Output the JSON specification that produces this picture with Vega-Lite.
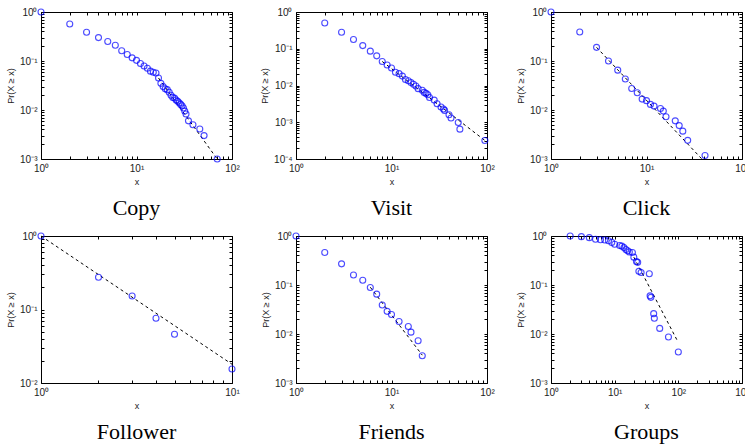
{
  "$schema": "https://vega.github.io/schema/vega-lite/v6.json",
  "padding": {"left": 6, "top": 6, "right": 0, "bottom": 0},
  "background": "white",
  "bounds": "flush",
  "columns": 3,
  "spacing": {"row": 77, "column": 64},
  "datasets": {
    "pts": [
      {"p":"Copy","x":1,"y":1},{"p":"Copy","x":2,"y":0.57},{"p":"Copy","x":3,"y":0.385},{"p":"Copy","x":4,"y":0.3},{"p":"Copy","x":5,"y":0.25},{"p":"Copy","x":6,"y":0.21},{"p":"Copy","x":7,"y":0.162},{"p":"Copy","x":8,"y":0.136},{"p":"Copy","x":9,"y":0.116},{"p":"Copy","x":10,"y":0.103},{"p":"Copy","x":11,"y":0.089},{"p":"Copy","x":12,"y":0.079},{"p":"Copy","x":13,"y":0.071},{"p":"Copy","x":14,"y":0.062},{"p":"Copy","x":15,"y":0.059},{"p":"Copy","x":16,"y":0.057},{"p":"Copy","x":17,"y":0.045},{"p":"Copy","x":18,"y":0.035},{"p":"Copy","x":19,"y":0.03},{"p":"Copy","x":20,"y":0.027},{"p":"Copy","x":21,"y":0.026},{"p":"Copy","x":22,"y":0.023},{"p":"Copy","x":23,"y":0.02},{"p":"Copy","x":24,"y":0.018},{"p":"Copy","x":25,"y":0.0175},{"p":"Copy","x":26,"y":0.016},{"p":"Copy","x":27,"y":0.015},{"p":"Copy","x":28,"y":0.014},{"p":"Copy","x":29,"y":0.013},{"p":"Copy","x":30,"y":0.0122},{"p":"Copy","x":31,"y":0.011},{"p":"Copy","x":32,"y":0.0095},{"p":"Copy","x":33,"y":0.0083},{"p":"Copy","x":35,"y":0.006},{"p":"Copy","x":39,"y":0.005},{"p":"Copy","x":46,"y":0.0041},{"p":"Copy","x":51,"y":0.003},{"p":"Copy","x":70,"y":0.001},
      {"p":"Visit","x":2,"y":0.5},{"p":"Visit","x":3,"y":0.28},{"p":"Visit","x":4,"y":0.178},{"p":"Visit","x":5,"y":0.122},{"p":"Visit","x":6,"y":0.086},{"p":"Visit","x":7,"y":0.064},{"p":"Visit","x":8,"y":0.045},{"p":"Visit","x":9,"y":0.036},{"p":"Visit","x":10,"y":0.03},{"p":"Visit","x":11,"y":0.023},{"p":"Visit","x":12,"y":0.021},{"p":"Visit","x":13,"y":0.018},{"p":"Visit","x":14,"y":0.0145},{"p":"Visit","x":15,"y":0.0135},{"p":"Visit","x":16,"y":0.012},{"p":"Visit","x":17,"y":0.0108},{"p":"Visit","x":18,"y":0.0097},{"p":"Visit","x":19,"y":0.0082},{"p":"Visit","x":21,"y":0.0074},{"p":"Visit","x":22,"y":0.0065},{"p":"Visit","x":23,"y":0.0061},{"p":"Visit","x":24,"y":0.0056},{"p":"Visit","x":25,"y":0.0047},{"p":"Visit","x":28,"y":0.004},{"p":"Visit","x":30,"y":0.0032},{"p":"Visit","x":33,"y":0.0026},{"p":"Visit","x":35,"y":0.0023},{"p":"Visit","x":36,"y":0.0021},{"p":"Visit","x":40,"y":0.0016},{"p":"Visit","x":42,"y":0.0013},{"p":"Visit","x":50,"y":0.00098},{"p":"Visit","x":52,"y":0.00065},{"p":"Visit","x":95,"y":0.00032},
      {"p":"Click","x":1,"y":1},{"p":"Click","x":2,"y":0.39},{"p":"Click","x":3,"y":0.19},{"p":"Click","x":4,"y":0.1},{"p":"Click","x":5,"y":0.065},{"p":"Click","x":6,"y":0.043},{"p":"Click","x":7,"y":0.0275},{"p":"Click","x":8,"y":0.0225},{"p":"Click","x":9,"y":0.0167},{"p":"Click","x":10,"y":0.0155},{"p":"Click","x":11,"y":0.013},{"p":"Click","x":12,"y":0.012},{"p":"Click","x":14,"y":0.0107},{"p":"Click","x":15,"y":0.0095},{"p":"Click","x":16,"y":0.0073},{"p":"Click","x":20,"y":0.006},{"p":"Click","x":22,"y":0.0048},{"p":"Click","x":24,"y":0.0037},{"p":"Click","x":27,"y":0.0024},{"p":"Click","x":41,"y":0.00118},
      {"p":"Follower","x":1,"y":1},{"p":"Follower","x":2,"y":0.275},{"p":"Follower","x":3,"y":0.153},{"p":"Follower","x":4,"y":0.076},{"p":"Follower","x":5,"y":0.046},{"p":"Follower","x":10,"y":0.0155},
      {"p":"Friends","x":1,"y":1},{"p":"Friends","x":2,"y":0.46},{"p":"Friends","x":3,"y":0.27},{"p":"Friends","x":4,"y":0.16},{"p":"Friends","x":5,"y":0.125},{"p":"Friends","x":6,"y":0.089},{"p":"Friends","x":7,"y":0.065},{"p":"Friends","x":8,"y":0.039},{"p":"Friends","x":9,"y":0.029},{"p":"Friends","x":10,"y":0.025},{"p":"Friends","x":12,"y":0.018},{"p":"Friends","x":15,"y":0.0142},{"p":"Friends","x":16,"y":0.0109},{"p":"Friends","x":19,"y":0.0073},{"p":"Friends","x":21,"y":0.0036},
      {"p":"Groups","x":2,"y":1},{"p":"Groups","x":3,"y":0.97},{"p":"Groups","x":4,"y":0.925},{"p":"Groups","x":5,"y":0.86},{"p":"Groups","x":6,"y":0.84},{"p":"Groups","x":7,"y":0.83},{"p":"Groups","x":8,"y":0.8},{"p":"Groups","x":9,"y":0.74},{"p":"Groups","x":10,"y":0.68},{"p":"Groups","x":12,"y":0.64},{"p":"Groups","x":13,"y":0.62},{"p":"Groups","x":14,"y":0.58},{"p":"Groups","x":15,"y":0.53},{"p":"Groups","x":16,"y":0.5},{"p":"Groups","x":17,"y":0.47},{"p":"Groups","x":19,"y":0.46},{"p":"Groups","x":20,"y":0.37},{"p":"Groups","x":22,"y":0.3},{"p":"Groups","x":23,"y":0.29},{"p":"Groups","x":24,"y":0.19},{"p":"Groups","x":26,"y":0.18},{"p":"Groups","x":35,"y":0.17},{"p":"Groups","x":36,"y":0.06},{"p":"Groups","x":37,"y":0.056},{"p":"Groups","x":41,"y":0.026},{"p":"Groups","x":42,"y":0.021},{"p":"Groups","x":51,"y":0.013},{"p":"Groups","x":70,"y":0.0087},{"p":"Groups","x":100,"y":0.0043}
    ],
    "fit": [
      {"p":"Copy","x":17,"y":0.045},{"p":"Copy","x":70,"y":0.001},
      {"p":"Visit","x":8,"y":0.045},{"p":"Visit","x":95,"y":0.00032},
      {"p":"Click","x":3,"y":0.19},{"p":"Click","x":38,"y":0.001},
      {"p":"Follower","x":1,"y":1},{"p":"Follower","x":10,"y":0.018},
      {"p":"Friends","x":6,"y":0.09},{"p":"Friends","x":21,"y":0.0037},
      {"p":"Groups","x":20,"y":0.37},{"p":"Groups","x":96,"y":0.0074}
    ]
  },
  "config": {
    "font": "Liberation Sans",
    "view": {"stroke": "black", "strokeWidth": 1},
    "axis": {"domain": false, "grid": false, "tickColor": "black", "tickSize": -3, "tickWidth": 1, "labelFontSize": 10, "labelColor": "#222222", "titleFontSize": 9, "titleFontWeight": "normal", "titleColor": "#222222", "labelPadding": 7, "titlePadding": 4, "labelFlush": false, "labelOverlap": false, "labelBound": false},
    "title": {"orient": "bottom", "font": "Liberation Serif", "fontSize": 22, "fontWeight": "normal", "color": "black", "offset": 12, "frame": "group", "anchor": "middle"},
    "point": {"shape": "circle", "filled": false, "color": "#0000ff", "size": 36, "strokeWidth": 1.1},
    "line": {"color": "black", "strokeDash": [3, 3], "strokeWidth": 1}
  },
  "concat": [
    {
      "width": 191, "height": 147, "title": {"text": "Copy"},
      "layer": [
        {"data": {"name": "fit"}, "transform": [{"filter": "datum.p == 'Copy'"}], "mark": "line",
         "encoding": {
           "x": {"field": "x", "type": "quantitative", "scale": {"type": "log", "domain": [1, 100], "nice": false}, "axis": {"title": "x", "values": [1,2,3,4,5,6,7,8,9,10,20,30,40,50,60,70,80,90,100], "labelExpr": "abs(log(datum.value)/LN10 - round(log(datum.value)/LN10)) < 0.000001 ? '10' + replace(replace(replace(replace(replace(replace('' + round(log(datum.value)/LN10), '-', '⁻'), '0', '⁰'), '1', '¹'), '2', '²'), '3', '³'), '4', '⁴') : ''"}},
           "y": {"field": "y", "type": "quantitative", "scale": {"type": "log", "domain": [0.001, 1], "nice": false}, "axis": {"title": "Pr(X ≥ x)", "values": [0.001,0.002,0.003,0.004,0.005,0.006,0.007,0.008,0.009,0.01,0.02,0.03,0.04,0.05,0.06,0.07,0.08,0.09,0.1,0.2,0.3,0.4,0.5,0.6,0.7,0.8,0.9,1], "labelExpr": "abs(log(datum.value)/LN10 - round(log(datum.value)/LN10)) < 0.000001 ? '10' + replace(replace(replace(replace(replace(replace('' + round(log(datum.value)/LN10), '-', '⁻'), '0', '⁰'), '1', '¹'), '2', '²'), '3', '³'), '4', '⁴') : ''"}}
         }},
        {"data": {"name": "pts"}, "transform": [{"filter": "datum.p == 'Copy'"}], "mark": "point",
         "encoding": {
           "x": {"field": "x", "type": "quantitative", "axis": {"orient": "top", "labels": false, "title": null, "values": [1,2,3,4,5,6,7,8,9,10,20,30,40,50,60,70,80,90,100]}},
           "y": {"field": "y", "type": "quantitative", "axis": {"orient": "right", "labels": false, "title": null, "values": [0.001,0.002,0.003,0.004,0.005,0.006,0.007,0.008,0.009,0.01,0.02,0.03,0.04,0.05,0.06,0.07,0.08,0.09,0.1,0.2,0.3,0.4,0.5,0.6,0.7,0.8,0.9,1]}}
         }}
      ],
      "resolve": {"axis": {"x": "independent", "y": "independent"}}
    },
    {
      "width": 191, "height": 147, "title": {"text": "Visit"},
      "layer": [
        {"data": {"name": "fit"}, "transform": [{"filter": "datum.p == 'Visit'"}], "mark": "line",
         "encoding": {
           "x": {"field": "x", "type": "quantitative", "scale": {"type": "log", "domain": [1, 100], "nice": false}, "axis": {"title": "x", "values": [1,2,3,4,5,6,7,8,9,10,20,30,40,50,60,70,80,90,100], "labelExpr": "abs(log(datum.value)/LN10 - round(log(datum.value)/LN10)) < 0.000001 ? '10' + replace(replace(replace(replace(replace(replace('' + round(log(datum.value)/LN10), '-', '⁻'), '0', '⁰'), '1', '¹'), '2', '²'), '3', '³'), '4', '⁴') : ''"}},
           "y": {"field": "y", "type": "quantitative", "scale": {"type": "log", "domain": [0.0001, 1], "nice": false}, "axis": {"title": "Pr(X ≥ x)", "values": [0.0001,0.0002,0.0003,0.0004,0.0005,0.0006,0.0007,0.0008,0.0009,0.001,0.002,0.003,0.004,0.005,0.006,0.007,0.008,0.009,0.01,0.02,0.03,0.04,0.05,0.06,0.07,0.08,0.09,0.1,0.2,0.3,0.4,0.5,0.6,0.7,0.8,0.9,1], "labelExpr": "abs(log(datum.value)/LN10 - round(log(datum.value)/LN10)) < 0.000001 ? '10' + replace(replace(replace(replace(replace(replace('' + round(log(datum.value)/LN10), '-', '⁻'), '0', '⁰'), '1', '¹'), '2', '²'), '3', '³'), '4', '⁴') : ''"}}
         }},
        {"data": {"name": "pts"}, "transform": [{"filter": "datum.p == 'Visit'"}], "mark": "point",
         "encoding": {
           "x": {"field": "x", "type": "quantitative", "axis": {"orient": "top", "labels": false, "title": null, "values": [1,2,3,4,5,6,7,8,9,10,20,30,40,50,60,70,80,90,100]}},
           "y": {"field": "y", "type": "quantitative", "axis": {"orient": "right", "labels": false, "title": null, "values": [0.0001,0.0002,0.0003,0.0004,0.0005,0.0006,0.0007,0.0008,0.0009,0.001,0.002,0.003,0.004,0.005,0.006,0.007,0.008,0.009,0.01,0.02,0.03,0.04,0.05,0.06,0.07,0.08,0.09,0.1,0.2,0.3,0.4,0.5,0.6,0.7,0.8,0.9,1]}}
         }}
      ],
      "resolve": {"axis": {"x": "independent", "y": "independent"}}
    },
    {
      "width": 191, "height": 147, "title": {"text": "Click"},
      "layer": [
        {"data": {"name": "fit"}, "transform": [{"filter": "datum.p == 'Click'"}], "mark": "line",
         "encoding": {
           "x": {"field": "x", "type": "quantitative", "scale": {"type": "log", "domain": [1, 100], "nice": false}, "axis": {"title": "x", "values": [1,2,3,4,5,6,7,8,9,10,20,30,40,50,60,70,80,90,100], "labelExpr": "abs(log(datum.value)/LN10 - round(log(datum.value)/LN10)) < 0.000001 ? '10' + replace(replace(replace(replace(replace(replace('' + round(log(datum.value)/LN10), '-', '⁻'), '0', '⁰'), '1', '¹'), '2', '²'), '3', '³'), '4', '⁴') : ''"}},
           "y": {"field": "y", "type": "quantitative", "scale": {"type": "log", "domain": [0.001, 1], "nice": false}, "axis": {"title": "Pr(X ≥ x)", "values": [0.001,0.002,0.003,0.004,0.005,0.006,0.007,0.008,0.009,0.01,0.02,0.03,0.04,0.05,0.06,0.07,0.08,0.09,0.1,0.2,0.3,0.4,0.5,0.6,0.7,0.8,0.9,1], "labelExpr": "abs(log(datum.value)/LN10 - round(log(datum.value)/LN10)) < 0.000001 ? '10' + replace(replace(replace(replace(replace(replace('' + round(log(datum.value)/LN10), '-', '⁻'), '0', '⁰'), '1', '¹'), '2', '²'), '3', '³'), '4', '⁴') : ''"}}
         }},
        {"data": {"name": "pts"}, "transform": [{"filter": "datum.p == 'Click'"}], "mark": "point",
         "encoding": {
           "x": {"field": "x", "type": "quantitative", "axis": {"orient": "top", "labels": false, "title": null, "values": [1,2,3,4,5,6,7,8,9,10,20,30,40,50,60,70,80,90,100]}},
           "y": {"field": "y", "type": "quantitative", "axis": {"orient": "right", "labels": false, "title": null, "values": [0.001,0.002,0.003,0.004,0.005,0.006,0.007,0.008,0.009,0.01,0.02,0.03,0.04,0.05,0.06,0.07,0.08,0.09,0.1,0.2,0.3,0.4,0.5,0.6,0.7,0.8,0.9,1]}}
         }}
      ],
      "resolve": {"axis": {"x": "independent", "y": "independent"}}
    },
    {
      "width": 191, "height": 147, "title": {"text": "Follower"},
      "layer": [
        {"data": {"name": "fit"}, "transform": [{"filter": "datum.p == 'Follower'"}], "mark": "line",
         "encoding": {
           "x": {"field": "x", "type": "quantitative", "scale": {"type": "log", "domain": [1, 10], "nice": false}, "axis": {"title": "x", "values": [1,2,3,4,5,6,7,8,9,10], "labelExpr": "abs(log(datum.value)/LN10 - round(log(datum.value)/LN10)) < 0.000001 ? '10' + replace(replace(replace(replace(replace(replace('' + round(log(datum.value)/LN10), '-', '⁻'), '0', '⁰'), '1', '¹'), '2', '²'), '3', '³'), '4', '⁴') : ''"}},
           "y": {"field": "y", "type": "quantitative", "scale": {"type": "log", "domain": [0.01, 1], "nice": false}, "axis": {"title": "Pr(X ≥ x)", "values": [0.01,0.02,0.03,0.04,0.05,0.06,0.07,0.08,0.09,0.1,0.2,0.3,0.4,0.5,0.6,0.7,0.8,0.9,1], "labelExpr": "abs(log(datum.value)/LN10 - round(log(datum.value)/LN10)) < 0.000001 ? '10' + replace(replace(replace(replace(replace(replace('' + round(log(datum.value)/LN10), '-', '⁻'), '0', '⁰'), '1', '¹'), '2', '²'), '3', '³'), '4', '⁴') : ''"}}
         }},
        {"data": {"name": "pts"}, "transform": [{"filter": "datum.p == 'Follower'"}], "mark": "point",
         "encoding": {
           "x": {"field": "x", "type": "quantitative", "axis": {"orient": "top", "labels": false, "title": null, "values": [1,2,3,4,5,6,7,8,9,10]}},
           "y": {"field": "y", "type": "quantitative", "axis": {"orient": "right", "labels": false, "title": null, "values": [0.01,0.02,0.03,0.04,0.05,0.06,0.07,0.08,0.09,0.1,0.2,0.3,0.4,0.5,0.6,0.7,0.8,0.9,1]}}
         }}
      ],
      "resolve": {"axis": {"x": "independent", "y": "independent"}}
    },
    {
      "width": 191, "height": 147, "title": {"text": "Friends"},
      "layer": [
        {"data": {"name": "fit"}, "transform": [{"filter": "datum.p == 'Friends'"}], "mark": "line",
         "encoding": {
           "x": {"field": "x", "type": "quantitative", "scale": {"type": "log", "domain": [1, 100], "nice": false}, "axis": {"title": "x", "values": [1,2,3,4,5,6,7,8,9,10,20,30,40,50,60,70,80,90,100], "labelExpr": "abs(log(datum.value)/LN10 - round(log(datum.value)/LN10)) < 0.000001 ? '10' + replace(replace(replace(replace(replace(replace('' + round(log(datum.value)/LN10), '-', '⁻'), '0', '⁰'), '1', '¹'), '2', '²'), '3', '³'), '4', '⁴') : ''"}},
           "y": {"field": "y", "type": "quantitative", "scale": {"type": "log", "domain": [0.001, 1], "nice": false}, "axis": {"title": "Pr(X ≥ x)", "values": [0.001,0.002,0.003,0.004,0.005,0.006,0.007,0.008,0.009,0.01,0.02,0.03,0.04,0.05,0.06,0.07,0.08,0.09,0.1,0.2,0.3,0.4,0.5,0.6,0.7,0.8,0.9,1], "labelExpr": "abs(log(datum.value)/LN10 - round(log(datum.value)/LN10)) < 0.000001 ? '10' + replace(replace(replace(replace(replace(replace('' + round(log(datum.value)/LN10), '-', '⁻'), '0', '⁰'), '1', '¹'), '2', '²'), '3', '³'), '4', '⁴') : ''"}}
         }},
        {"data": {"name": "pts"}, "transform": [{"filter": "datum.p == 'Friends'"}], "mark": "point",
         "encoding": {
           "x": {"field": "x", "type": "quantitative", "axis": {"orient": "top", "labels": false, "title": null, "values": [1,2,3,4,5,6,7,8,9,10,20,30,40,50,60,70,80,90,100]}},
           "y": {"field": "y", "type": "quantitative", "axis": {"orient": "right", "labels": false, "title": null, "values": [0.001,0.002,0.003,0.004,0.005,0.006,0.007,0.008,0.009,0.01,0.02,0.03,0.04,0.05,0.06,0.07,0.08,0.09,0.1,0.2,0.3,0.4,0.5,0.6,0.7,0.8,0.9,1]}}
         }}
      ],
      "resolve": {"axis": {"x": "independent", "y": "independent"}}
    },
    {
      "width": 191, "height": 147, "title": {"text": "Groups"},
      "layer": [
        {"data": {"name": "fit"}, "transform": [{"filter": "datum.p == 'Groups'"}], "mark": "line",
         "encoding": {
           "x": {"field": "x", "type": "quantitative", "scale": {"type": "log", "domain": [1, 1000], "nice": false}, "axis": {"title": "x", "values": [1,2,3,4,5,6,7,8,9,10,20,30,40,50,60,70,80,90,100,200,300,400,500,600,700,800,900,1000], "labelExpr": "abs(log(datum.value)/LN10 - round(log(datum.value)/LN10)) < 0.000001 ? '10' + replace(replace(replace(replace(replace(replace('' + round(log(datum.value)/LN10), '-', '⁻'), '0', '⁰'), '1', '¹'), '2', '²'), '3', '³'), '4', '⁴') : ''"}},
           "y": {"field": "y", "type": "quantitative", "scale": {"type": "log", "domain": [0.001, 1], "nice": false}, "axis": {"title": "Pr(X ≥ x)", "values": [0.001,0.002,0.003,0.004,0.005,0.006,0.007,0.008,0.009,0.01,0.02,0.03,0.04,0.05,0.06,0.07,0.08,0.09,0.1,0.2,0.3,0.4,0.5,0.6,0.7,0.8,0.9,1], "labelExpr": "abs(log(datum.value)/LN10 - round(log(datum.value)/LN10)) < 0.000001 ? '10' + replace(replace(replace(replace(replace(replace('' + round(log(datum.value)/LN10), '-', '⁻'), '0', '⁰'), '1', '¹'), '2', '²'), '3', '³'), '4', '⁴') : ''"}}
         }},
        {"data": {"name": "pts"}, "transform": [{"filter": "datum.p == 'Groups'"}], "mark": "point",
         "encoding": {
           "x": {"field": "x", "type": "quantitative", "axis": {"orient": "top", "labels": false, "title": null, "values": [1,2,3,4,5,6,7,8,9,10,20,30,40,50,60,70,80,90,100,200,300,400,500,600,700,800,900,1000]}},
           "y": {"field": "y", "type": "quantitative", "axis": {"orient": "right", "labels": false, "title": null, "values": [0.001,0.002,0.003,0.004,0.005,0.006,0.007,0.008,0.009,0.01,0.02,0.03,0.04,0.05,0.06,0.07,0.08,0.09,0.1,0.2,0.3,0.4,0.5,0.6,0.7,0.8,0.9,1]}}
         }}
      ],
      "resolve": {"axis": {"x": "independent", "y": "independent"}}
    }
  ]
}
